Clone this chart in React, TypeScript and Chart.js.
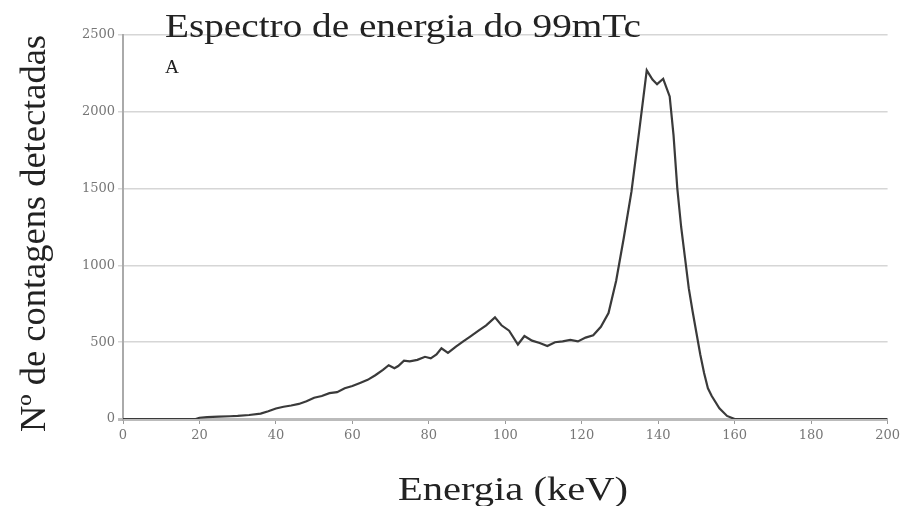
import React, { useEffect, useRef } from "react";
import { Chart, registerables } from "chart.js";

Chart.register(...registerables);

const energy = [0, 10, 19, 20, 22, 25, 28, 30, 33, 36, 38, 40, 42, 44, 46, 48, 50, 52, 54, 56, 58, 60, 62, 64, 66, 68, 69.5, 71, 72, 73.5, 75, 77, 79, 80.5, 82, 83.3, 85, 87, 89, 91, 93, 95, 97.3, 99, 101, 103.3, 105, 107, 109, 111, 113, 115, 117, 119, 121, 123, 125, 127, 129, 131, 133, 135, 137, 138.5, 139.7, 141.3, 143, 144, 145, 146, 147, 148, 149, 150, 151, 152, 153, 154, 156, 158, 160, 170, 180, 190, 200];
const counts = [0, 0, 0, 8, 12, 15, 18, 20, 26, 35, 50, 68, 80, 88, 98, 115, 138, 150, 168, 175, 200, 215, 235, 255, 285, 320, 350, 330, 345, 380, 375, 385, 405, 395, 420, 460, 430, 470, 505, 540, 575, 610, 662, 610, 575, 485, 540, 510, 495, 475, 500, 505, 515, 505, 530, 545, 600, 690, 900, 1180, 1480, 1870, 2270, 2210, 2180, 2215, 2100, 1850, 1500, 1250, 1050, 850, 700, 560, 420, 300, 200, 150, 70, 20, 0, 0, 0, 0, 0];

const xTicks = [0, 20, 40, 60, 80, 100, 120, 140, 160, 180, 200];
const yTicks = [0, 500, 1000, 1500, 2000, 2500];

const titleText = "Espectro de energia do 99mTc";
const subLabel = "A";
const xTitle = "Energia (keV)";
const yTitle = "Nº de contagens detectadas";

function fitText(ctx: CanvasRenderingContext2D, text: string, x: number, y: number, w: number, font: string) {
  ctx.save();
  ctx.font = font;
  ctx.textAlign = "left";
  ctx.textBaseline = "alphabetic";
  const m = ctx.measureText(text).width;
  ctx.translate(x, y);
  ctx.scale(w / m, 1);
  ctx.fillText(text, 0, 0);
  ctx.restore();
}

const textPlugin = {
  id: "textPlugin",
  afterDraw(chart: any) {
    const ctx = chart.ctx as CanvasRenderingContext2D;
    const ca = chart.chartArea;
    ctx.save();
    ctx.fillStyle = "#222";
    fitText(ctx, titleText, ca.left + 42, ca.top + 2, 476, '33px "Liberation Serif"');
    fitText(ctx, subLabel, ca.left + 42, ca.top + 38, 14, '19px "Liberation Serif"');
    fitText(ctx, xTitle, ca.left + 275, ca.bottom + 81, 230, '33px "Liberation Serif"');
    ctx.save();
    ctx.translate(45, ca.bottom + 13);
    ctx.rotate(-Math.PI / 2);
    fitText(ctx, yTitle, 0, 0, 397, '35px "Liberation Serif"');
    ctx.restore();
    ctx.restore();
  },
};

export default function App() {
  const ref = useRef<HTMLCanvasElement | null>(null);
  useEffect(() => {
    if (!ref.current) return;
    const chart = new Chart(ref.current, {
      type: "line",
      data: {
        datasets: [
          {
            data: energy.map((e, i) => ({ x: e, y: counts[i] })),
            borderColor: "#3a3a3a",
            borderWidth: 2.2,
            pointRadius: 0,
            tension: 0,
            fill: false,
          },
        ],
      },
      options: {
        animation: false,
        responsive: false,
        layout: { padding: { left: 0, top: 35, right: 16, bottom: 0 } },
        plugins: { legend: { display: false }, title: { display: false }, tooltip: { enabled: false } },
        scales: {
          x: {
            type: "linear",
            min: 0,
            max: 200,
            afterBuildTicks: (s: any) => {
              s.ticks = xTicks.map((v) => ({ value: v }));
            },
            afterFit: (s: any) => {
              s.height = 87;
            },
            grid: { drawOnChartArea: false, drawTicks: true, tickLength: 5, color: "#999" },
            border: { display: false },
            ticks: {
              color: "#777",
              font: { family: "DejaVu Serif", size: 13 },
              padding: 4,
              maxRotation: 0,
              callback: (v: any) => String(v),
            },
          },
          y: {
            min: 0,
            max: 2500,
            afterBuildTicks: (s: any) => {
              s.ticks = yTicks.map((v) => ({ value: v }));
            },
            afterFit: (s: any) => {
              s.width = 123;
            },
            grid: {
              color: (c: any) => (c.tick && c.tick.value === 0 ? "#bbb" : "#d6d6d6"),
              lineWidth: (c: any) => (c.tick && c.tick.value === 0 ? 3 : 1.5),
              tickLength: 5,
            },
            border: { display: true, color: "#aaa", width: 2 },
            ticks: {
              color: "#777",
              font: { family: "DejaVu Serif", size: 13 },
              padding: 3,
              callback: (v: any) => String(v),
            },
          },
        },
      },
      plugins: [textPlugin],
    });
    return () => chart.destroy();
  }, []);
  return (
    <div style={{ position: "fixed", left: 0, top: 0, width: 904, height: 506, background: "#fff" }}>
      <canvas ref={ref} width={904} height={506} style={{ width: 904, height: 506 }} />
    </div>
  );
}
